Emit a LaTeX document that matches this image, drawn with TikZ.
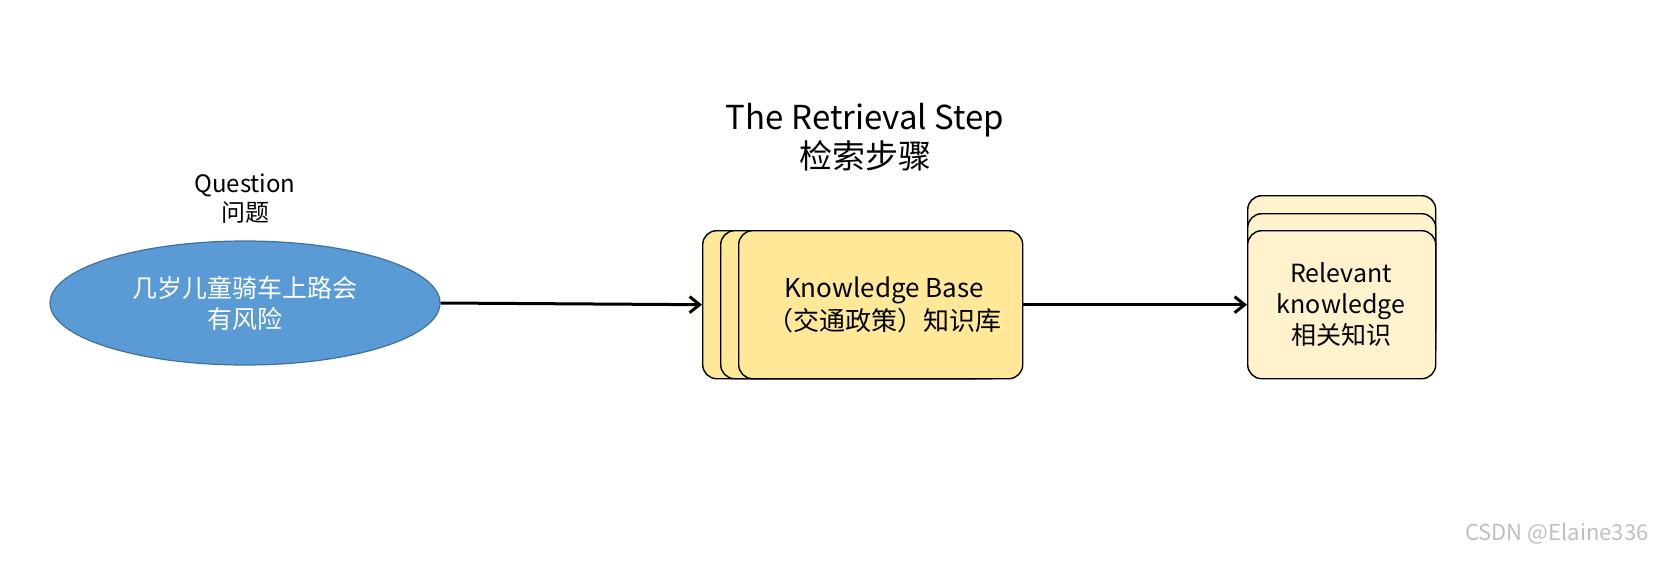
\documentclass[tikz,border=0pt]{standalone}
\usepackage{fontspec}
\setmainfont{Noto Sans CJK SC}
\usetikzlibrary{shapes.geometric,arrows.meta}
\definecolor{ell}{HTML}{5B9BD5}
\definecolor{ellb}{HTML}{41719C}
\definecolor{kb}{HTML}{FFE999}
\definecolor{rk}{HTML}{FFF2CC}
\begin{document}
\begin{tikzpicture}[x=1pt,y=-1pt,
  box/.style={draw=black,line width=1.4pt,rounded corners=14pt,anchor=north west,inner sep=0pt},
  lab/.style={align=center},
  arr/.style={-{Straight Barb[length=10pt,width=16pt]},line width=3pt}]
\useasboundingbox (0,0) rectangle (1654,560);
\node[ellipse,fill=ell,draw=ellb,line width=1.2pt,minimum width=390pt,minimum height=124pt] (q) at (245,303) {};
\node[lab,text=white,font=\fontsize{25}{31}\selectfont] (qt) at (245,303) {几岁儿童骑车上路会\\有风险};
\node[lab,font=\fontsize{24}{29}\selectfont] (ql) at (245,199) {Question\\问题};
\node[align=center,font=\fontsize{33}{39}\selectfont] (title) at (865,137) {The Retrieval Step\\检索步骤};
\node[box,fill=kb,minimum width=284pt,minimum height=148pt] (k1) at (702,230) {};
\node[box,fill=kb,minimum width=284pt,minimum height=148pt] (k2) at (720,230) {};
\node[box,fill=kb,minimum width=284pt,minimum height=148pt] (k3) at (738,230) {};
\node[lab,font=\fontsize{26}{33}\selectfont] (kt) at (884,305) {Knowledge Base\\（交通政策）知识库};
\node[box,fill=rk,minimum width=188pt,minimum height=148pt] (r1) at (1247,195) {};
\node[box,fill=rk,minimum width=188pt,minimum height=148pt] (r2) at (1247,213) {};
\node[box,fill=rk,minimum width=188pt,minimum height=148pt] (r3) at (1247,230) {};
\node[lab,font=\fontsize{25}{31}\selectfont] (rt) at (1341,305) {Relevant\\knowledge\\相关知识};
\draw[arr] (q.east) -- (k1.west);
\draw[arr] (k3.east) -- (r3.west);
\node[font=\fontsize{22}{26}\selectfont,text=black!25,anchor=south east] (wm) at (1652,548) {CSDN @Elaine336};
\end{tikzpicture}
\end{document}
